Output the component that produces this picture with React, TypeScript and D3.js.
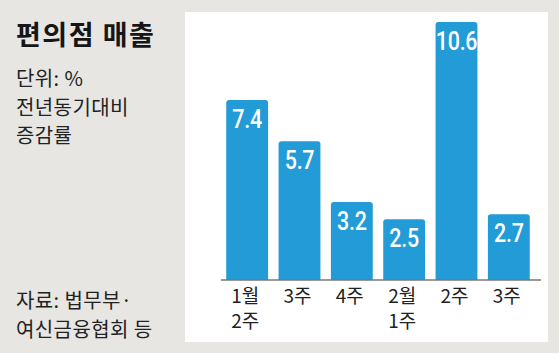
import * as d3 from "d3";
import React from "react";

// 편의점 매출, 전년동기대비 증감률 (%)
const categories = ["1월 2주", "3주", "4주", "2월 1주", "2주", "3주"];
const catLines = [["1월", "2주"], ["3주"], ["4주"], ["2월", "1주"], ["2주"], ["3주"]];
const values = [7.4, 5.7, 3.2, 2.5, 10.6, 2.7];
const noteLines = ["단위: %", "전년동기대비", "증감률"];
const sourceLines = ["자료: 법무부·", "여신금융협회 등"];

const W = 559;
const H = 353;
const KR = "'Noto Sans CJK KR', 'Noto Sans', sans-serif";
const BLUE = "#229bd6";

function topRounded(x: number, y: number, w: number, h: number, r: number) {
    return `M${x},${y + h}V${y + r}Q${x},${y} ${x + r},${y}H${x + w - r}Q${x + w},${y} ${x + w},${y + r}V${y + h}Z`;
}

export default function App() {
    const base = 280;
    const x = d3.scaleBand<string>().domain(categories.map((c, i) => i + c)).range([221, 535])
        .paddingInner(0.2).paddingOuter(0.1);
    const y = d3.scaleLinear().domain([0, 10.6]).range([base, 22]);
    const keys = x.domain();

    return (
        <svg width={W} height={H} style={{ position: "absolute", left: 0, top: 0, background: "#e7e6e2" }}>
            <rect x={185} y={12} width={363} height={330} fill="#ffffff" />

            <text x={16} y={45} fontFamily={KR} fontWeight={700} fontSize={27} letterSpacing={1.5} fill="#161616">편의점 매출</text>
            {noteLines.map((t, i) => (
                <text key={t} x={16} y={86 + i * 28.5} fontFamily={KR} fontSize={20} letterSpacing={0.4} fill="#222">{t}</text>
            ))}
            {sourceLines.map((t, i) => (
                <text key={t} x={16} y={308 + i * 29} fontFamily={KR} fontSize={20} letterSpacing={0.4} fill="#222">{t}</text>
            ))}

            {values.map((v, i) => {
                const bx = x(keys[i])!;
                const bw = x.bandwidth();
                const top = y(v);
                return (
                    <g key={keys[i]}>
                        <path d={topRounded(bx, top, bw, base - top, 3)} fill={BLUE} />
                        <text transform={`translate(${bx + bw / 2},${top + 28}) scale(0.86,1)`} textAnchor="middle" fill="#fff"
                            fontFamily="Roboto, sans-serif" fontWeight={500} fontSize={25} letterSpacing={-0.3}>{v}</text>
                    </g>
                );
            })}

            <line x1={221} x2={541} y1={base} y2={base} stroke="#777" strokeWidth={1.5} />

            {catLines.map((lines, i) => (
                <text key={keys[i]} textAnchor="middle" fontFamily={KR} fontSize={19} fill="#222">
                    {lines.map((l, j) => (
                        <tspan key={j} x={x(keys[i])! + x.bandwidth() / 2 - 2} y={303 + j * 25}>{l}</tspan>
                    ))}
                </text>
            ))}
        </svg>
    );
}
